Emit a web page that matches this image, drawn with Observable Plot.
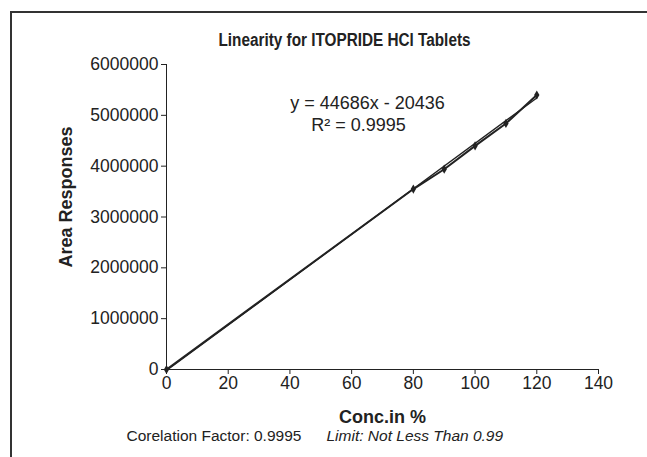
<!DOCTYPE html>
<html>
<head>
<meta charset="utf-8">
<script src="https://cdn.jsdelivr.net/npm/d3@7"></script>
<script src="https://cdn.jsdelivr.net/npm/@observablehq/plot@0.6"></script>
<style>
  html, body { margin: 0; padding: 0; background: #fff; }
  #wrap { position: relative; width: 647px; height: 457px; overflow: hidden; font-family: "Liberation Sans", Arial, sans-serif; }
  #frame { position: absolute; left: 10px; top: 11px; width: 660px; height: 480px; border-top: 2px solid #333; border-left: 2px solid #333; pointer-events: none; }
  #wrap svg { position: absolute; left: 0; top: 0; }
</style>
</head>
<body>
<div id="wrap"><div id="frame"></div></div>
<script>
// Data
const conc = [0, 80, 90, 100, 110, 120];
const area = [0, 3550000, 3940000, 4400000, 4840000, 5400000];
const slope = 44686;
const intercept = -20436;
const trendX = [0, 120];
const xTicks = [0, 20, 40, 60, 80, 100, 120, 140];
const yTicks = [0, 1000000, 2000000, 3000000, 4000000, 5000000, 6000000];
const titleText = "Linearity for ITOPRIDE HCl Tablets";
const eqText = "y = 44686x - 20436";
const r2Text = "R\u00B2 = 0.9995";
const footLeft = "Corelation Factor: 0.9995";
const footRight = "Limit: Not Less Than 0.99";

const points = conc.map((c, i) => ({x: c, y: area[i]}));
const trend = trendX.map(x => ({x, y: slope * x + intercept}));

const chart = Plot.plot({
  width: 647,
  height: 457,
  marginLeft: 166,
  marginRight: 49,
  marginTop: 64,
  marginBottom: 88,
  style: {fontFamily: "'Liberation Sans', Arial, sans-serif", fontSize: "17px", color: "#222", background: "transparent", overflow: "visible"},
  x: {domain: [0, 140]},
  y: {domain: [0, 6000000]},
  marks: [
    Plot.axisX({ticks: xTicks, tickSize: 5, tickPadding: 2, fontSize: 17.5, label: "Conc.in %", labelAnchor: "center", labelArrow: "none", labelOffset: 53, tickFormat: d => String(d)}),
    Plot.axisY({ticks: yTicks, tickSize: 5, tickPadding: 3, fontSize: 17.5, label: null, tickFormat: d => String(d)}),
    Plot.ruleX([0], {stroke: "#222", strokeWidth: 1}),
    Plot.ruleY([0], {stroke: "#222", strokeWidth: 1}),
    Plot.line(trend, {x: "x", y: "y", stroke: "#222", strokeWidth: 1.3}),
    Plot.line(points, {x: "x", y: "y", stroke: "#222", strokeWidth: 2}),
    Plot.dot(points, {x: "x", y: "y", symbol: "diamond", r: 2.8, fill: "#222", stroke: "none"}),
    Plot.text([titleText], {frameAnchor: "top", lineAnchor: "middle", dx: -38, dy: -24, fontSize: 18, fontWeight: "bold", fill: "#222"}),
    Plot.text([eqText], {frameAnchor: "top", lineAnchor: "middle", dx: -15, dy: 39, fontSize: 18, fill: "#222"}),
    Plot.text([r2Text], {frameAnchor: "top", lineAnchor: "middle", dx: -24, dy: 61, fontSize: 18, fill: "#222"}),
    Plot.text(["Area Responses"], {frameAnchor: "left", textAnchor: "middle", lineAnchor: "middle", dx: -100, dy: -20, rotate: -90, fontSize: 18, fontWeight: "bold", fill: "#222"}),
    Plot.text([footLeft], {frameAnchor: "bottom-left", lineAnchor: "middle", dx: -40, dy: 67, textAnchor: "start", fontSize: 15.5, fill: "#222"}),
    Plot.text([footRight], {frameAnchor: "bottom-left", lineAnchor: "middle", dx: 160, dy: 67, textAnchor: "start", fontSize: 15.5, fontStyle: "italic", fill: "#222"})
  ]
});
chart.querySelectorAll('[aria-label="x-axis label"] text').forEach(t => { t.setAttribute("font-weight", "bold"); t.style.fontSize = "18px"; });
// condensed title, as in the reference
chart.querySelectorAll('text').forEach(t => {
  if (t.textContent === titleText) { t.setAttribute("textLength", "252"); t.setAttribute("lengthAdjust", "spacingAndGlyphs"); }
});
document.getElementById("wrap").appendChild(chart);
</script>
</body>
</html>
